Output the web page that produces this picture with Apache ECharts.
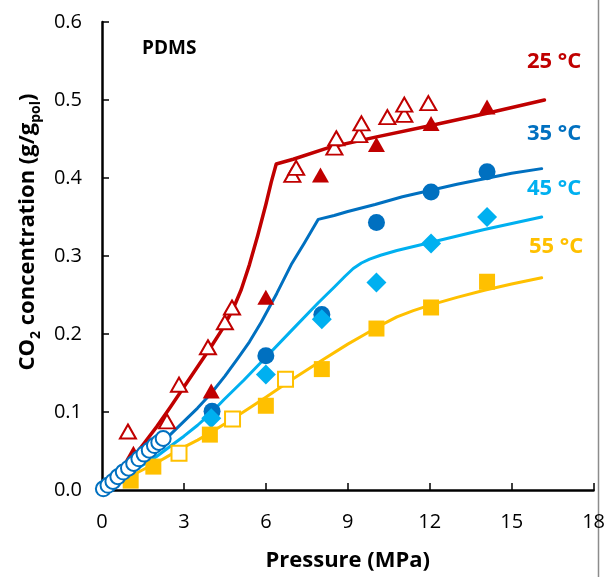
<!DOCTYPE html>
<html><head><meta charset="utf-8">
<script src="https://cdn.jsdelivr.net/npm/echarts@6/dist/echarts.min.js"></script>
<style>html,body{margin:0;padding:0;background:#fff}#c{width:608px;height:577px}</style>
</head><body><div id="c"></div>
<script>
// Model curves [pressure MPa, concentration g/g]
const line25 = [[0,0],[0.5,0.017],[1,0.036],[1.5,0.058],[2,0.081],[2.5,0.106],[3,0.132],[3.5,0.158],[4,0.184],[4.4,0.206],[4.8,0.232],[5.1,0.257],[5.4,0.289],[5.7,0.326],[6.0,0.366],[6.2,0.395],[6.38,0.418],[7,0.424],[8.3,0.439],[10.1,0.453],[12,0.467],[14.1,0.483],[16.2,0.5]];
const line35 = [[0,0],[0.5,0.013],[1,0.027],[1.5,0.041],[2,0.056],[2.5,0.071],[3,0.088],[3.5,0.105],[4,0.124],[4.5,0.146],[5,0.17],[5.4,0.19],[5.83,0.215],[6.4,0.252],[6.93,0.289],[7.4,0.316],[7.92,0.347],[8.5,0.352],[9,0.357],[10,0.366],[11,0.376],[12,0.384],[13,0.392],[14,0.399],[15,0.406],[16.1,0.412]];
const line45 = [[0,0],[0.5,0.01],[1,0.021],[1.5,0.032],[2,0.043],[2.5,0.056],[3,0.069],[3.5,0.083],[4,0.099],[4.47,0.116],[5.2,0.141],[5.94,0.168],[6.9,0.203],[7.92,0.24],[8.5,0.26],[8.9,0.274],[9.2,0.284],[9.5,0.291],[9.8,0.296],[10.2,0.301],[10.8,0.307],[12.1,0.318],[14,0.334],[16.1,0.35]];
const line55 = [[0,0],[0.5,0.008],[1,0.017],[1.5,0.026],[2,0.035],[2.5,0.045],[3,0.055],[3.5,0.064],[4,0.074],[4.78,0.091],[5.4,0.105],[6,0.119],[6.93,0.141],[8,0.165],[9,0.187],[9.6,0.199],[10.2,0.211],[10.8,0.222],[11.4,0.23],[12.1,0.238],[13,0.247],[14,0.256],[15,0.264],[16.1,0.272]];
// Experimental points
const tri25Filled = [[1.15,0.047],[4,0.127],[6,0.247],[8,0.404],[10.05,0.443],[12.05,0.47],[14.1,0.491]];
const tri25Open = [[0.95,0.075],[2.38,0.088],[2.82,0.135],[3.88,0.183],[4.5,0.215],[4.76,0.234],[6.97,0.404],[7.11,0.413],[8.51,0.439],[8.58,0.451],[9.42,0.455],[9.5,0.47],[10.45,0.478],[11.07,0.481],[11.07,0.494],[11.95,0.496]];
const circ35Filled = [[4.03,0.101],[6,0.172],[8.05,0.225],[10.05,0.343],[12.05,0.382],[14.1,0.408]];
const circ35Open = [[0.05,0.0015],[0.22,0.006],[0.4,0.011],[0.58,0.017],[0.78,0.023],[0.97,0.028],[1.16,0.034],[1.35,0.04],[1.54,0.046],[1.73,0.051],[1.92,0.057],[2.08,0.061],[2.24,0.066]];
const dia45Filled = [[4,0.092],[6,0.148],[8.05,0.219],[10.05,0.266],[12.05,0.316],[14.1,0.35]];
const sq55Filled = [[1.05,0.012],[1.88,0.03],[3.95,0.071],[6,0.108],[8.05,0.155],[10.05,0.207],[12.05,0.234],[14.1,0.267]];
const sq55Open = [[2.82,0.047],[4.78,0.091],[6.72,0.142]];
const xTicks = {min:0, max:18, interval:3};
const yTicks = {min:0, max:0.6, interval:0.1};
const tempLabels = ['25 °C','35 °C','45 °C','55 °C'];
const yTitle = '{m|CO}{s|2}{m| concentration (g/g}{s|pol}{m|)}';

const RED='#C00000', DB='#0070C0', LB='#00B0F0', YE='#FFC000';
const FONT='Open Sans';
function curve(data,color,w){return {type:'line',data:data,showSymbol:false,smooth:false,lineStyle:{color:color,width:w,join:'round',cap:'round'},itemStyle:{color:color},silent:true,z:2};}
function pts(data,symbol,size,fill,border,bw,z){return {type:'scatter',data:data,symbol:symbol,symbolSize:size,itemStyle:{color:fill,borderColor:border,borderWidth:bw,opacity:1},z:z,silent:true};}

const chart = echarts.init(document.getElementById('c'),null,{renderer:'canvas'});
chart.setOption({
  animation:false,
  grid:{left:102,right:14,top:22,bottom:86},
  xAxis:{type:'value',min:xTicks.min,max:xTicks.max,interval:xTicks.interval,
    axisLine:{lineStyle:{color:'#000',width:2.5}},
    axisTick:{show:true,inside:true,length:7,lineStyle:{color:'#000',width:1.5}},
    axisLabel:{color:'#000',fontFamily:FONT,fontSize:20,margin:22},
    splitLine:{show:false},
    name:'Pressure (MPa)',nameLocation:'middle',nameGap:60,
    nameTextStyle:{color:'#000',fontFamily:FONT,fontSize:22,fontWeight:'bold'}},
  yAxis:{type:'value',min:yTicks.min,max:yTicks.max,interval:yTicks.interval,
    axisLine:{show:true,lineStyle:{color:'#000',width:2.5}},
    axisTick:{show:true,inside:true,length:7,lineStyle:{color:'#000',width:1.5}},
    axisLabel:{color:'#000',fontFamily:FONT,fontSize:20,margin:20,formatter:v=>v.toFixed(1)},
    splitLine:{show:false}},
  graphic:[
    {type:'text',x:28,y:232,rotation:Math.PI/2,
      style:{text:yTitle,align:'center',verticalAlign:'middle',fill:'#000',
        rich:{m:{fontFamily:FONT,fontSize:22,fontWeight:'bold',fill:'#000',lineHeight:30,verticalAlign:'middle'},
              s:{fontFamily:FONT,fontSize:14,fontWeight:'bold',fill:'#000',lineHeight:14,verticalAlign:'bottom'}}}},
    {type:'text',left:142,top:39,style:{text:'PDMS',fill:'#000',font:'bold 19px "Open Sans"'}},
    {type:'text',left:527,top:51,style:{text:tempLabels[0],fill:RED,font:'bold 22px "Open Sans"'}},
    {type:'text',left:527,top:123,style:{text:tempLabels[1],fill:DB,font:'bold 22px "Open Sans"'}},
    {type:'text',left:527,top:178,style:{text:tempLabels[2],fill:LB,font:'bold 22px "Open Sans"'}},
    {type:'text',left:529,top:236,style:{text:tempLabels[3],fill:YE,font:'bold 22px "Open Sans"'}},
    {type:'line',shape:{x1:598.5,y1:0,x2:598.5,y2:577},style:{stroke:'#8c8c8c',lineWidth:1.5}}
  ],
  series:[
    curve(line55,YE,3),
    curve(line45,LB,3),
    curve(line35,DB,3),
    curve(line25,RED,3.5),
    pts(tri25Filled,'triangle',[17,15],RED,RED,0,5),
    pts(tri25Open,'triangle',[16,14],'#fff',RED,2,5),
    pts(circ35Filled,'circle',17,DB,DB,0,5),
    pts(dia45Filled,'diamond',[20,20],LB,LB,0,5),
    pts(sq55Filled,'rect',16,YE,YE,0,5),
    pts(sq55Open,'rect',15,'#fff',YE,2,5),
    pts(circ35Open,'circle',15,'#fff',DB,2,6)
  ]
});
</script></body></html>
